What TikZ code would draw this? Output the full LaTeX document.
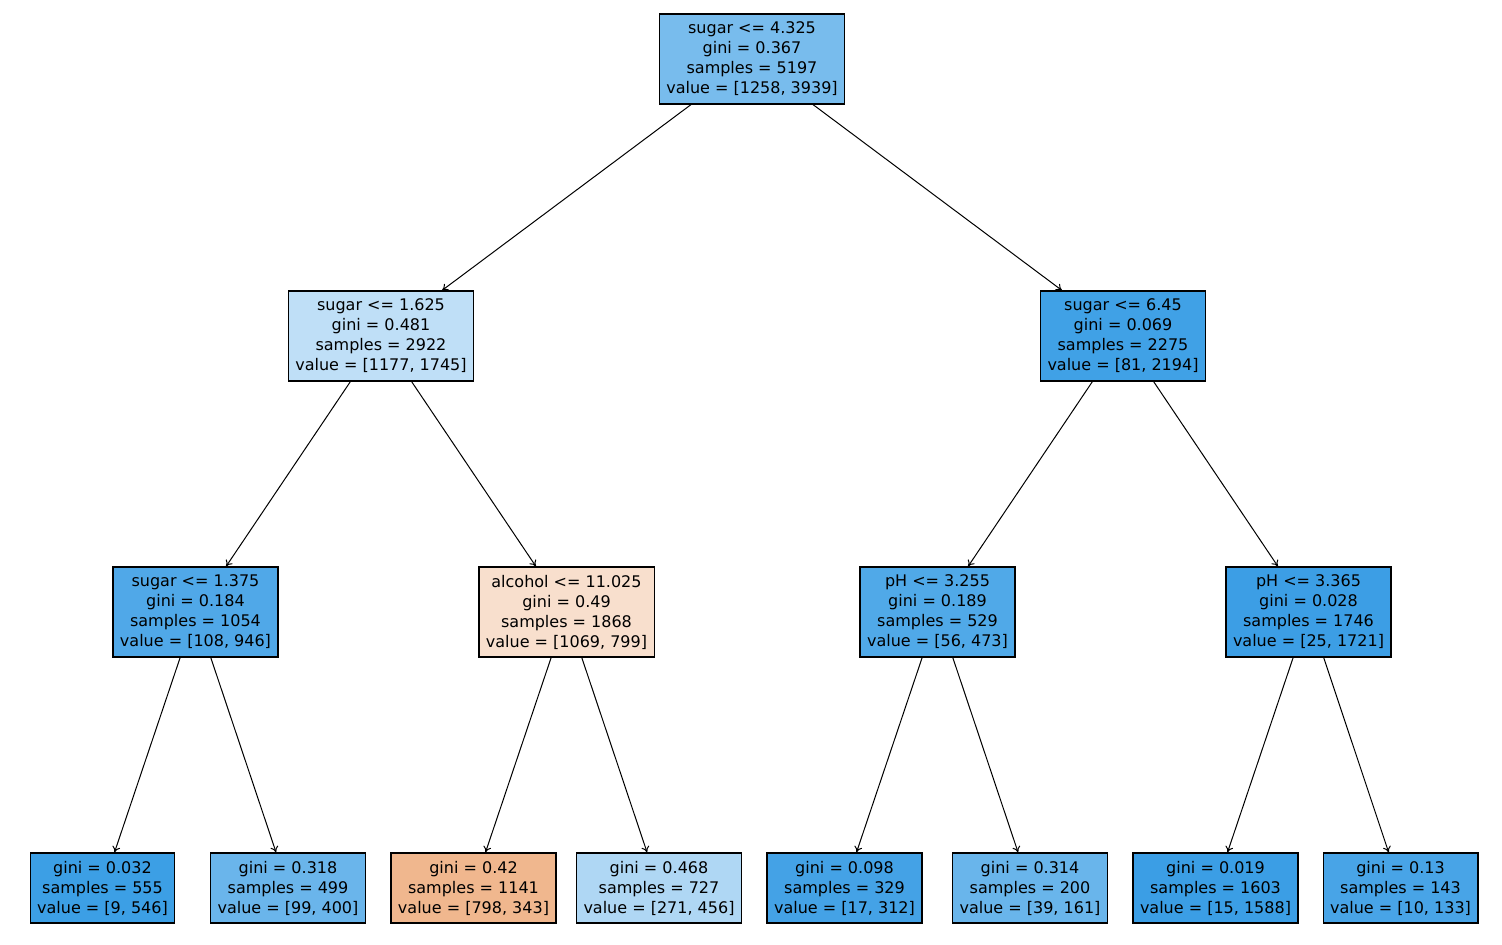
\documentclass[tikz,border=0pt]{standalone}
\usepackage{fontspec}
\setmainfont{DejaVu Sans}
\usetikzlibrary{arrows.meta}
\definecolor{cB}{RGB}{57,157,229}
\definecolor{cO}{RGB}{229,129,57}
\begin{document}
\begin{tikzpicture}[x=0.5pt,y=-0.5pt,
  tnode/.style={draw=black, line width=0.6pt, align=center, font=\fontsize{8}{10}\selectfont, inner xsep=3.5pt, inner ysep=0pt},
  split/.style={tnode, minimum height=45pt},
  leaf/.style={tnode, minimum height=35pt},
  edge/.style={line width=0.5pt, -{To[length=3pt,width=4pt]}}]
\path[use as bounding box, fill=white] (0,0) rectangle (1502,944);
\node[split, fill=cB!68.1!white] (root) at (752,59) {sugar <= 4.325\\gini = 0.367\\samples = 5197\\value = [1258, 3939]};
\node[split, fill=cB!32.5!white] (l) at (381,336) {sugar <= 1.625\\gini = 0.481\\samples = 2922\\value = [1177, 1745]};
\node[split, fill=cB!96.3!white] (r) at (1123,336) {sugar <= 6.45\\gini = 0.069\\samples = 2275\\value = [81, 2194]};
\node[split, fill=cB!88.6!white] (ll) at (195.5,612) {sugar <= 1.375\\gini = 0.184\\samples = 1054\\value = [108, 946]};
\node[split, fill=cO!25.3!white] (lr) at (566.5,612) {alcohol <= 11.025\\gini = 0.49\\samples = 1868\\value = [1069, 799]};
\node[split, fill=cB!88.2!white] (rl) at (937.5,612) {pH <= 3.255\\gini = 0.189\\samples = 529\\value = [56, 473]};
\node[split, fill=cB!98.5!white] (rr) at (1308.5,612) {pH <= 3.365\\gini = 0.028\\samples = 1746\\value = [25, 1721]};
\node[leaf, fill=cB!98.4!white] (a) at (102.5,888) {gini = 0.032\\samples = 555\\value = [9, 546]};
\node[leaf, fill=cB!75.3!white] (b) at (288,888) {gini = 0.318\\samples = 499\\value = [99, 400]};
\node[leaf, fill=cO!57.0!white] (c) at (473.5,888) {gini = 0.42\\samples = 1141\\value = [798, 343]};
\node[leaf, fill=cB!40.6!white] (d) at (659,888) {gini = 0.468\\samples = 727\\value = [271, 456]};
\node[leaf, fill=cB!94.6!white] (e) at (844.5,888) {gini = 0.098\\samples = 329\\value = [17, 312]};
\node[leaf, fill=cB!75.8!white] (f) at (1030,888) {gini = 0.314\\samples = 200\\value = [39, 161]};
\node[leaf, fill=cB!99.1!white] (g) at (1215.5,888) {gini = 0.019\\samples = 1603\\value = [15, 1588]};
\node[leaf, fill=cB!92.5!white] (h) at (1400.5,888) {gini = 0.13\\samples = 143\\value = [10, 133]};
\draw[edge] (root) -- (l);
\draw[edge] (root) -- (r);
\draw[edge] (l) -- (ll);
\draw[edge] (l) -- (lr);
\draw[edge] (r) -- (rl);
\draw[edge] (r) -- (rr);
\draw[edge] (ll) -- (a);
\draw[edge] (ll) -- (b);
\draw[edge] (lr) -- (c);
\draw[edge] (lr) -- (d);
\draw[edge] (rl) -- (e);
\draw[edge] (rl) -- (f);
\draw[edge] (rr) -- (g);
\draw[edge] (rr) -- (h);
\end{tikzpicture}
\end{document}
